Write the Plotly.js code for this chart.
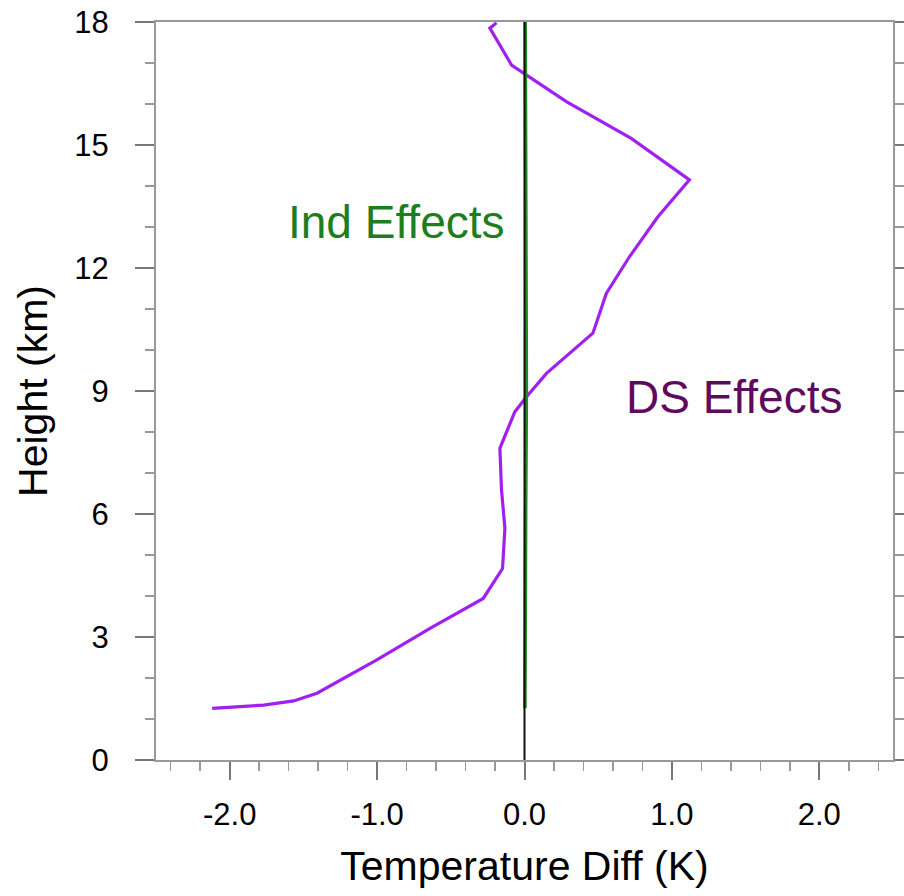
<!DOCTYPE html>
<html>
<head>
<meta charset="utf-8">
<script src="https://cdn.plot.ly/plotly-3.0.1.min.js"></script>
<style>html,body{margin:0;padding:0;background:#fff;}#chart{width:904px;height:896px;}</style>
</head>
<body>
<div id="chart"></div>
<script>
// DS Effects profile (purple)
const dsHeight = [17.98, 17.85, 16.95, 16.06, 15.16, 14.15, 13.25, 12.28, 11.38, 10.41, 9.43, 8.86, 8.49, 7.6, 6.59, 5.65, 4.67, 3.94, 3.21, 2.44, 1.63, 1.44, 1.34, 1.26];
const dsDiff   = [-0.19, -0.235, -0.088, 0.284, 0.724, 1.119, 0.905, 0.713, 0.555, 0.464, 0.149, 0.014, -0.066, -0.167, -0.156, -0.133, -0.149, -0.28, -0.641, -1.002, -1.408, -1.567, -1.77, -2.119];
// Ind Effects profile (green)
const indHeight = [18, 15, 12, 10, 9, 6, 3, 1.26];
const indDiff   = [0.005, 0.008, 0.012, 0.015, 0.013, 0.008, 0.005, 0.003];
// zero reference line
const refHeight = [0, 18];
const refDiff = [0, 0];
const xTickVals = [-2, -1, 0, 1, 2];
const xTickText = ["-2.0", "-1.0", "0.0", "1.0", "2.0"];
const yTickVals = [0, 3, 6, 9, 12, 15, 18];

const FONT = "'Liberation Sans', Arial, Helvetica, sans-serif";

const traces = [
  {x: dsDiff, y: dsHeight, mode: 'lines', line: {color: '#a020f0', width: 3.2}, hoverinfo: 'skip'},
  {x: indDiff, y: indHeight, mode: 'lines', line: {color: '#228b22', width: 3.5}, hoverinfo: 'skip'},
  {x: refDiff, y: refHeight, mode: 'lines', line: {color: '#111111', width: 2}, hoverinfo: 'skip'}
];

const layout = {
  width: 904, height: 896,
  margin: {l: 156, r: 11, t: 22, b: 136},
  paper_bgcolor: '#fff', plot_bgcolor: '#fff',
  showlegend: false,
  font: {family: FONT, color: '#000'},
  xaxis: {
    range: [-2.5, 2.5], showgrid: false, zeroline: false, automargin: false,
    showline: true, linecolor: '#999', linewidth: 2, mirror: true,
    ticks: 'outside', ticklen: 18, tickwidth: 2, tickcolor: '#777',
    tickvals: xTickVals, ticktext: xTickText, ticklabelstandoff: 8,
    tickfont: {size: 31, family: FONT, color: '#000'},
    minor: {dtick: 0.2, ticks: 'outside', ticklen: 9, tickwidth: 1.5, tickcolor: '#999', showgrid: false},
    title: {text: 'Temperature Diff (K)', font: {size: 41, family: FONT, color: '#000'}, standoff: 20}
  },
  yaxis: {
    range: [0, 18], showgrid: false, zeroline: false, automargin: false,
    showline: true, linecolor: '#999', linewidth: 2, mirror: 'ticks',
    ticks: 'outside', ticklen: 19, tickwidth: 2, tickcolor: '#777',
    tickvals: yTickVals, ticklabelstandoff: 20,
    tickfont: {size: 31, family: FONT, color: '#000'},
    minor: {dtick: 1, ticks: 'outside', ticklen: 9, tickwidth: 1.5, tickcolor: '#999', showgrid: false},
    title: {text: 'Height (km)', font: {size: 41, family: FONT, color: '#000'}, standoff: 14}
  },
  annotations: [
    {x: -0.871, y: 13.12, xref: 'x', yref: 'y', text: 'Ind Effects', showarrow: false,
     font: {size: 46, family: FONT, color: '#1e7d1e'}},
    {x: 1.418, y: 8.85, xref: 'x', yref: 'y', text: 'DS Effects', showarrow: false,
     font: {size: 46, family: FONT, color: '#5e0a5e'}}
  ]
};

Plotly.newPlot('chart', traces, layout, {displayModeBar: false, staticPlot: true});
</script>
</body>
</html>
